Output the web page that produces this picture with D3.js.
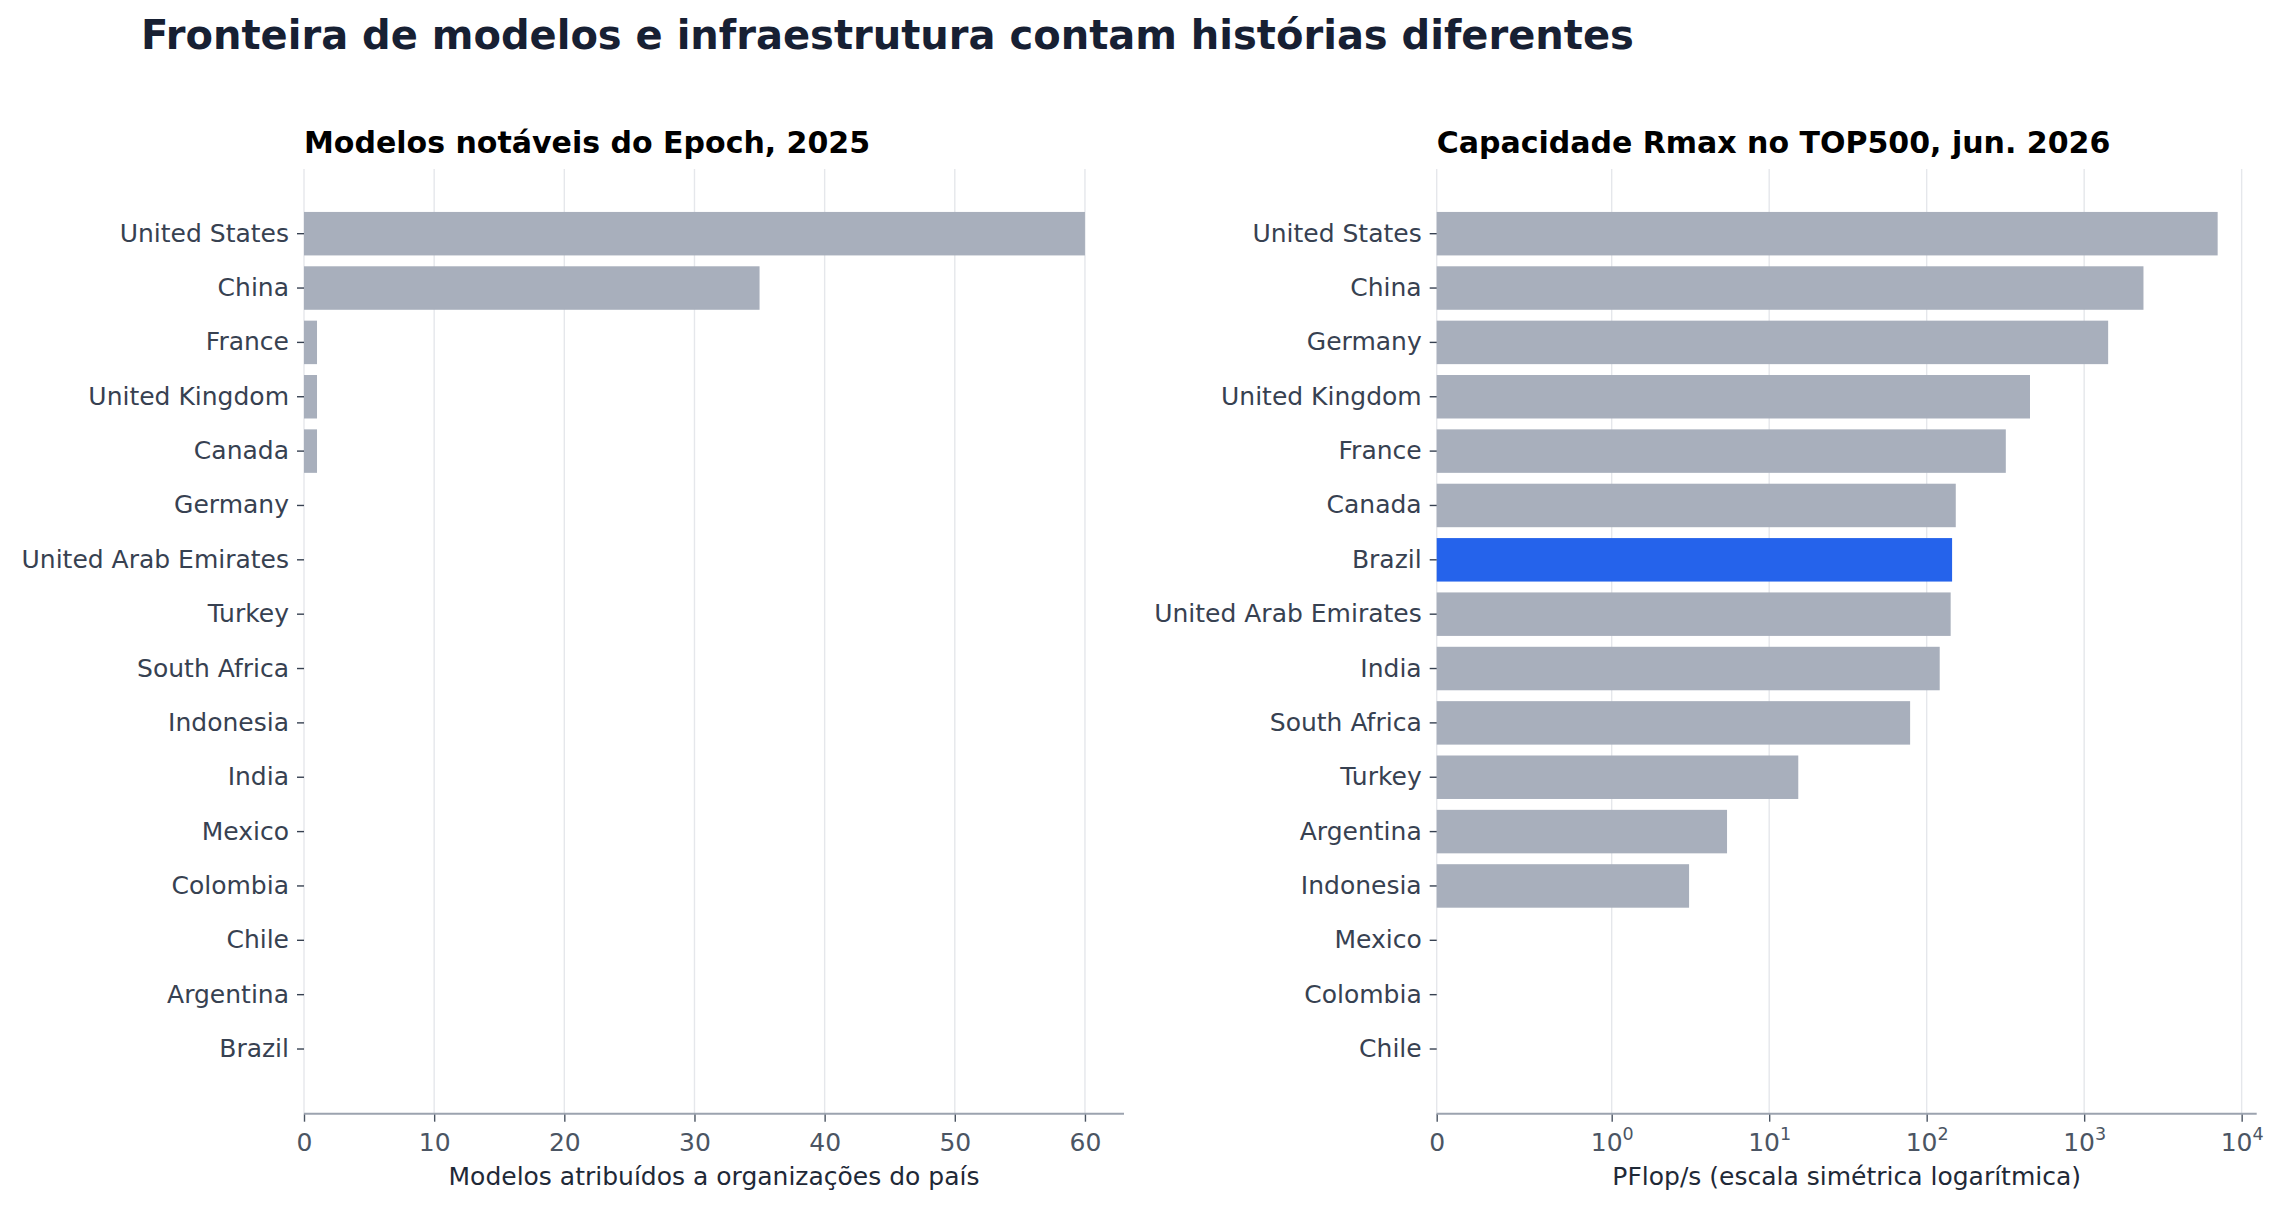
<!DOCTYPE html>
<html>
<head>
<meta charset="utf-8">
<script src="https://cdn.jsdelivr.net/npm/d3@7"></script>
<style>
  body { margin: 0; background: #ffffff; }
  svg { display: block; font-family: "DejaVu Sans", sans-serif; }
</style>
</head>
<body>
<svg id="chart" width="2281" height="1212"></svg>
<script>
// Left panel: notable models (Epoch, 2025)
var epochCountries = ["United States", "China", "France", "United Kingdom", "Canada", "Germany",
    "United Arab Emirates", "Turkey", "South Africa", "Indonesia", "India", "Mexico",
    "Colombia", "Chile", "Argentina", "Brazil"];
var epochModels = [60, 35, 1, 1, 1, 0, 0, 0, 0, 0, 0, 0, 0, 0, 0, 0];
var epochTicks = [0, 10, 20, 30, 40, 50, 60];

// Right panel: TOP500 Rmax, PFlop/s
var top500Countries = ["United States", "China", "Germany", "United Kingdom", "France", "Canada",
    "Brazil", "United Arab Emirates", "India", "South Africa", "Turkey", "Argentina",
    "Indonesia", "Mexico", "Colombia", "Chile"];
var top500Rmax = [7040, 2380, 1420, 453, 318, 153, 145, 142, 121, 78.5, 15.3, 5.4, 3.1, 0, 0, 0];
var top500TickExps = [null, 0, 1, 2, 3, 4];

var highlightCountry = "Brazil";

var svg = d3.select("#chart"),
    barColor = "#a8afbc",
    highlightColor = "#2563eb",
    gridColor = "#e5e7eb",
    spineColor = "#9ca3af",
    plotTop = 169,
    plotBottom = 1113.7,
    plotWidth = 820;

// matplotlib-style symlog (linthresh 1, linscale 1, base 10)
var linAdj = 1 / (1 - 1 / 10);
function symlog(v) {
    return v <= 1 ? v * linAdj : linAdj + Math.log10(v);
}
function identity(v) {
    return v;
}

svg.append("text")
    .attr("x", 141)
    .attr("y", 49)
    .attr("fill", "#172033")
    .style("font-size", "40px")
    .style("font-weight", "bold")
    .text("Fronteira de modelos e infraestrutura contam histórias diferentes");

/**
  * Draw one horizontal bar panel.
  * opts.scale works in transformed space, opts.transform maps data to it.
  */
function drawPanel(opts) {
    var g = svg.append("g"),
        left = opts.left,
        right = left + plotWidth,
        y = d3.scaleBand()
            .domain(opts.categories)
            .range([plotTop, plotBottom])
            .paddingInner(0.2)
            .paddingOuter(0.79),
        scale = opts.scale,
        tf = opts.transform,
        tickPos = opts.tickValues.map(tf),
        x = function (v) { return scale(tf(v)); },
        xAxis,
        yAxis;

    // grid
    g.append("g").selectAll("line")
        .data(tickPos)
        .enter()
        .append("line")
        .attr("x1", function (d) { return scale(d); })
        .attr("x2", function (d) { return scale(d); })
        .attr("y1", plotTop)
        .attr("y2", plotBottom)
        .attr("stroke", gridColor)
        .attr("stroke-width", 1.4);

    // bars
    g.append("g").selectAll("rect")
        .data(opts.categories)
        .enter()
        .append("rect")
        .attr("x", x(0))
        .attr("y", function (d) { return y(d); })
        .attr("width", function (d, i) { return x(opts.values[i]) - x(0); })
        .attr("height", y.bandwidth())
        .attr("fill", function (d) { return d === highlightCountry && opts.highlight ? highlightColor : barColor; });

    // y axis
    yAxis = g.append("g")
        .attr("transform", "translate(" + left + ",0)")
        .call(d3.axisLeft(y).tickSize(7).tickPadding(8));
    yAxis.select(".domain").remove();
    yAxis.selectAll(".tick line").attr("stroke", "#374151").attr("stroke-width", 1.4);
    yAxis.selectAll(".tick text")
        .attr("fill", "#374151")
        .style("font-size", "25px")
        .style("font-family", "DejaVu Sans");

    // x axis
    xAxis = g.append("g")
        .attr("transform", "translate(0," + plotBottom + ")")
        .call(d3.axisBottom(scale).tickValues(tickPos).tickSize(8).tickFormat(""));
    xAxis.select(".domain").remove();
    xAxis.selectAll(".tick line").attr("stroke", "#4b5563").attr("stroke-width", 1.4);
    xAxis.selectAll(".tick").each(function (d, i) {
        var t = d3.select(this).append("text")
            .attr("y", 37)
            .attr("fill", "#4b5563")
            .attr("text-anchor", "middle")
            .style("font-size", "25px")
            .style("font-family", "DejaVu Sans");
        opts.tickLabel(t, i);
    });
    g.append("line")
        .attr("x1", left)
        .attr("x2", right)
        .attr("y1", plotBottom)
        .attr("y2", plotBottom)
        .attr("stroke", spineColor)
        .attr("stroke-width", 2);

    // titles
    g.append("text")
        .attr("x", left)
        .attr("y", 153)
        .attr("fill", "#000000")
        .style("font-size", "30px")
        .style("font-weight", "bold")
        .text(opts.title);
    g.append("text")
        .attr("x", left + plotWidth / 2)
        .attr("y", 1185)
        .attr("text-anchor", "middle")
        .attr("fill", "#1f2937")
        .style("font-size", "25px")
        .text(opts.xlabel);
}

drawPanel({
    left: 304,
    categories: epochCountries,
    values: epochModels,
    scale: d3.scaleLinear()
        .domain([0, d3.max(epochModels) * 1.05])
        .range([304, 304 + plotWidth]),
    transform: identity,
    tickValues: epochTicks,
    tickLabel: function (t, i) { t.text(epochTicks[i]); },
    title: "Modelos notáveis do Epoch, 2025",
    xlabel: "Modelos atribuídos a organizações do país",
    highlight: false
});

drawPanel({
    left: 1436.7,
    categories: top500Countries,
    values: top500Rmax,
    scale: d3.scaleLinear()
        .domain([0, symlog(d3.max(top500Rmax)) * 1.05])
        .range([1436.7, 1436.7 + plotWidth]),
    transform: symlog,
    tickValues: top500TickExps.map(function (e) { return e === null ? 0 : Math.pow(10, e); }),
    tickLabel: function (t, i) {
        var e = top500TickExps[i];
        if (e === null) {
            t.text("0");
            return;
        }
        t.append("tspan").text("10");
        t.append("tspan")
            .attr("dy", -11)
            .style("font-size", "17.5px")
            .text(e);
    },
    title: "Capacidade Rmax no TOP500, jun. 2026",
    xlabel: "PFlop/s (escala simétrica logarítmica)",
    highlight: true
});
</script>
</body>
</html>
